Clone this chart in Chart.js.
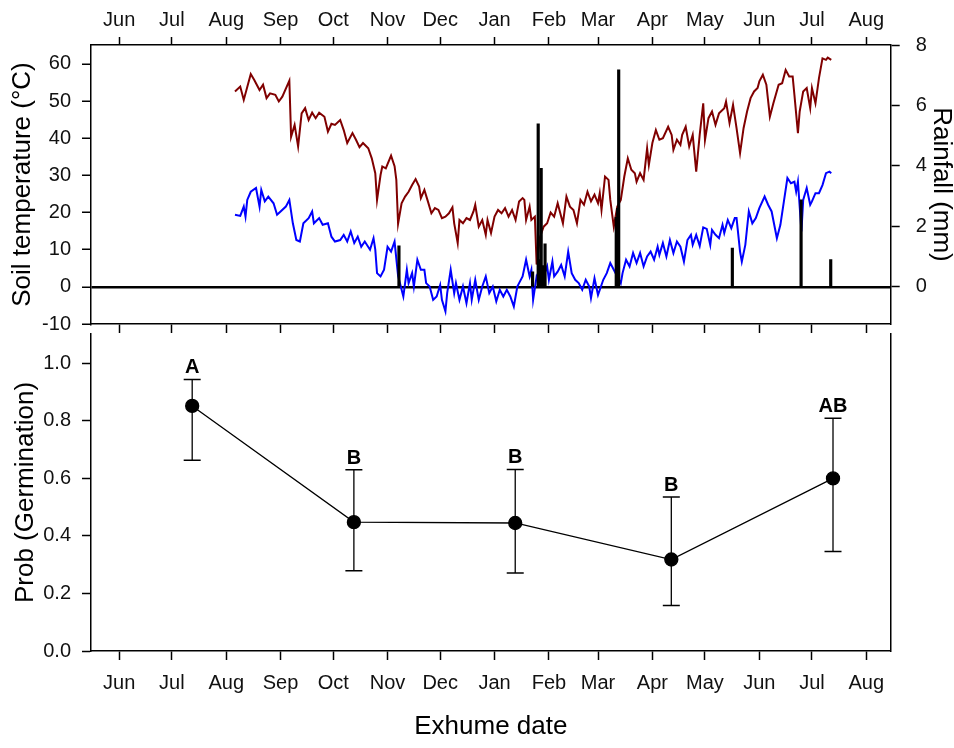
<!DOCTYPE html>
<html>
<head>
<meta charset="utf-8">
<script src="https://cdn.jsdelivr.net/npm/chart.js@4.4.1/dist/chart.umd.min.js"></script>
<style>
  html, body { margin: 0; padding: 0; background: #fff; }
  #wrap { position: relative; width: 954px; height: 748px; overflow: hidden; }
  #wrap canvas { position: absolute; left: 0; }
  #tempChart { top: 0; }
  #probChart { top: 324px; }
</style>
</head>
<body>
<div id="wrap">
  <canvas id="probChart" width="954" height="424"></canvas>
  <canvas id="tempChart" width="954" height="345"></canvas>
</div>
<script>
// =============================================================================
// DATA  (x values are days counted from 1 June of the first year)
// =============================================================================

const MONTH_DAYS = [0, 30, 61, 92, 122, 153, 183, 214, 245, 273, 304, 334, 365, 395, 426];
const MONTH_LABELS = ["Jun", "Jul", "Aug", "Sep", "Oct", "Nov", "Dec", "Jan", "Feb", "Mar", "Apr", "May", "Jun", "Jul", "Aug"];

const TEMP_TICKS = [-10, 0, 10, 20, 30, 40, 50, 60];
const RAIN_TICKS = [0, 2, 4, 6, 8];
const PROB_TICKS = [0, 0.2, 0.4, 0.6, 0.8, 1.0];
const PROB_LABELS = ["0.0", "0.2", "0.4", "0.6", "0.8", "1.0"];

// Soil temperature, upper (dark red) trace
const MAX_DAYS = [66, 69, 71, 75, 77, 80, 82, 84, 86, 89, 91, 93, 97, 98, 100, 102, 104, 106, 108, 110,
  112, 114, 117, 119, 121, 123, 126, 128, 130, 133, 135, 137, 139, 142, 144, 146, 147, 149, 150, 152,
  155, 157, 158, 159, 161, 163, 165, 167, 169, 171, 172, 174, 176, 178, 180, 182, 184, 186, 188, 190,
  191, 193, 194, 196, 198, 200, 202, 203, 205, 207, 209, 210, 212, 214, 216, 218, 220, 222, 224, 226,
  228, 230, 231, 232, 234, 235, 237, 238, 240, 242, 244, 246, 248, 250, 253, 255, 257, 259, 261, 263,
  265, 267, 269, 271, 273, 274, 275, 277, 279, 280, 282, 284, 286, 288, 290, 292, 294, 295, 297, 299,
  301, 302, 304, 306, 308, 310, 313, 315, 316, 318, 320, 321, 323, 325, 327, 329, 331, 333, 334, 336,
  338, 340, 342, 345, 346, 348, 350, 352, 354, 356, 358, 360, 362, 364, 365, 367, 369, 371, 373, 376,
  378, 380, 382, 384, 385, 387, 388, 390, 392, 394, 395, 397, 399, 401, 403, 404, 406];
const MAX_TEMP = [52.6, 53.9, 50.3, 57.3, 55.7, 53.0, 54.4, 50.8, 52.1, 51.7, 49.9, 51.2, 55.5, 40.4, 43.6, 37.8, 46.7, 48.1, 44.9, 46.9,
  45.4, 46.9, 45.8, 41.8, 43.9, 43.6, 44.9, 42.2, 38.7, 41.4, 39.6, 37.6, 38.7, 37.3, 34.6, 30.6, 23.4, 30.1, 32.4, 31.9,
  35.3, 32.5, 28.8, 17.0, 22.5, 24.3, 25.6, 27.4, 29.0, 27.0, 23.9, 26.1, 23.0, 19.8, 21.2, 20.7, 18.5, 18.9, 19.8, 21.4,
  17.1, 11.8, 18.0, 17.1, 18.5, 18.0, 20.3, 22.1, 16.2, 18.0, 14.0, 18.0, 14.5, 18.9, 20.7, 19.8, 21.2, 18.9, 20.7, 18.0,
  23.0, 23.9, 23.4, 18.0, 21.6, 18.0, 18.9, 6.0, 13.5, 16.2, 17.1, 20.0, 18.9, 22.5, 17.1, 24.3, 21.6, 20.7, 17.1, 23.4,
  22.1, 25.6, 23.0, 24.8, 22.5, 25.2, 20.7, 29.7, 28.8, 23.4, 16.2, 21.6, 23.4, 29.7, 34.6, 31.5, 30.6, 28.3, 30.6, 28.8,
  37.3, 32.8, 38.7, 42.2, 39.6, 40.0, 43.1, 40.9, 36.9, 39.6, 38.2, 40.9, 43.1, 37.8, 40.9, 31.0, 41.0, 49.4, 39.5, 45.4,
  47.2, 43.6, 46.7, 48.1, 49.9, 44.1, 49.0, 42.7, 36.0, 42.7, 47.2, 50.8, 52.6, 53.5, 55.3, 57.1, 54.4, 45.8, 49.4, 54.4,
  54.8, 58.4, 56.6, 56.6, 51.7, 41.4, 47.2, 52.6, 53.5, 48.1, 53.5, 49.4, 56.2, 61.5, 61.1, 61.7, 61.1];

// Soil temperature, lower (blue) trace
const MIN_DAYS = [66, 69, 71, 72, 73, 75, 78, 80, 81, 83, 85, 88, 90, 92, 95, 97, 99, 101, 103, 105,
  108, 110, 111, 114, 116, 119, 121, 123, 126, 128, 130, 132, 134, 136, 138, 140, 143, 145, 146, 147,
  149, 151, 153, 155, 157, 159, 162, 164, 165, 167, 168, 170, 172, 174, 175, 177, 179, 181, 183, 184,
  186, 187, 189, 191, 192, 194, 196, 198, 200, 201, 203, 205, 207, 209, 211, 213, 215, 217, 219, 221,
  223, 225, 227, 228, 230, 232, 234, 235, 236, 238, 240, 242, 244, 245, 247, 248, 250, 252, 254, 256,
  258, 260, 262, 264, 266, 268, 269, 271, 273, 276, 278, 280, 282, 284, 286, 287, 289, 291, 293, 295,
  297, 299, 301, 303, 305, 307, 308, 310, 312, 314, 316, 318, 320, 322, 324, 326, 327, 329, 331, 333,
  335, 337, 338, 340, 342, 344, 345, 347, 349, 351, 352, 354, 355, 357, 359, 361, 363, 365, 368, 370,
  372, 375, 377, 379, 381, 383, 385, 386, 387, 389, 390, 392, 394, 395, 397, 399, 401, 403, 405, 406];
const MIN_TEMP = [19.4, 19.1, 21.6, 18.9, 23.4, 25.6, 26.6, 21.6, 26.1, 23.0, 24.3, 22.5, 19.4, 20.3, 21.6, 23.4, 17.1, 12.6, 12.2, 17.1,
  18.5, 20.3, 17.1, 18.5, 16.7, 17.1, 13.5, 12.2, 12.6, 14.0, 12.2, 14.9, 11.8, 13.5, 10.8, 12.2, 10.0, 13.1, 10.0, 3.7,
  2.8, 4.6, 10.8, 9.5, 12.2, 3.0, -2.6, 4.6, 1.0, 3.7, 0.1, 7.3, 4.6, 4.6, 1.0, 0.1, -3.5, -2.6, 0.5, -3.5,
  -6.6, -1.7, 4.6, -1.7, 1.0, -3.5, 0.1, -4.4, 1.0, -3.5, 1.9, -3.5, 0.1, 2.8, -1.7, 0.1, -3.9, -0.8, -2.6, -0.8,
  -2.6, -5.3, 0.1, 1.0, 2.8, 7.3, 2.8, 4.6, -3.5, 2.8, 1.0, 2.8, 5.5, 1.9, 6.8, 2.8, 4.1, 5.9, 2.8, 9.5,
  3.7, 1.9, 1.0, -0.8, 1.9, 0.1, -3.0, 2.3, -2.2, 1.9, 3.7, 6.4, 4.6, 2.8, 1.0, 3.7, 7.3, 5.5, 9.1, 6.4,
  9.1, 5.5, 8.2, 9.5, 7.3, 10.8, 8.6, 11.8, 8.2, 12.6, 9.1, 12.2, 10.8, 6.8, 12.6, 14.0, 11.3, 14.0, 11.0, 16.0,
  15.6, 11.3, 15.3, 14.0, 13.1, 16.7, 14.5, 18.0, 15.8, 18.5, 18.5, 9.5, 6.8, 11.3, 20.3, 17.1, 18.5, 21.2, 24.3, 22.1,
  20.3, 13.1, 16.7, 23.0, 29.3, 27.9, 28.3, 25.6, 28.3, 14.9, 23.4, 26.6, 22.1, 23.0, 25.2, 25.2, 27.4, 30.6, 31.0, 30.6];

// Rainfall events (mm)
const RAIN_DAYS = [159.5, 235.7, 238.9, 239.6, 240.6, 241.4, 242.8, 283.4, 284.2, 284.8, 349.6, 388.8, 405.7];
const RAIN_MM = [1.36, 0.5, 5.39, 0.9, 3.92, 0.7, 1.42, 2.3, 2.6, 7.18, 1.28, 2.88, 0.9];

// Germination probability at each exhume date
const GERM_DAYS = [41.6, 133.8, 225.8, 314.8, 407];
const GERM_PROB = [0.852, 0.448, 0.445, 0.318, 0.600];
const GERM_LO = [0.663, 0.279, 0.271, 0.158, 0.346];
const GERM_HI = [0.944, 0.630, 0.631, 0.535, 0.809];
const GERM_LETTERS = ["A", "B", "B", "B", "AB"];

// =============================================================================
// HELPERS
// =============================================================================

const X_MIN = -16.1;
const X_MAX = 439.9;
const FONT = '"Liberation Sans", Arial, sans-serif';
const FRAME = { display: true, color: "#000", width: 1.5 };

Chart.defaults.font.family = FONT;
Chart.defaults.color = "#111";

const toPoints = (xs, ys) => xs.map((x, i) => ({ x, y: ys[i] }));
const setTicks = (values) => (scale) => { scale.ticks = values.map((v) => ({ value: v })); };
const fixWidth = (w) => (scale) => { scale.width = w; scale.paddingTop = 0; scale.paddingBottom = 0; };
const fixHeight = (h) => (scale) => { scale.height = h; scale.paddingLeft = 0; scale.paddingRight = 0; };
const monthLabel = (v, i) => MONTH_LABELS[i];

// the bar dataset would otherwise switch the x scales to "offset" mode
const monthAxis = (position, height, showLabels, tickLength) => ({
  type: "linear",
  position,
  min: X_MIN,
  max: X_MAX,
  offset: false,
  afterBuildTicks: setTicks(MONTH_DAYS),
  afterFit: fixHeight(height),
  ticks: { display: showLabels, callback: monthLabel, font: { size: 20 }, padding: position === "top" ? 5 : 11, maxRotation: 0, autoSkip: false, color: "#111" },
  grid: { offset: false, drawOnChartArea: false, tickLength, tickColor: "#000", tickWidth: 1.5 },
  border: FRAME,
});

const noChrome = { legend: { display: false }, tooltip: { enabled: false } };

// =============================================================================
// TOP PANEL: soil temperature + rainfall
// =============================================================================

new Chart(document.getElementById("tempChart"), {
  type: "line",
  data: {
    datasets: [
      {
        type: "bar",
        label: "Rainfall",
        data: toPoints(RAIN_DAYS, RAIN_MM),
        xAxisID: "x",
        yAxisID: "y2",
        backgroundColor: "#000",
        barThickness: 2.5,
        order: 0,
      },
      {
        label: "Upper soil temperature",
        data: toPoints(MAX_DAYS, MAX_TEMP),
        xAxisID: "x",
        yAxisID: "y",
        borderColor: "#800000",
        borderWidth: 2,
        pointRadius: 0,
        order: 1,
      },
      {
        label: "Lower soil temperature",
        data: toPoints(MIN_DAYS, MIN_TEMP),
        xAxisID: "x",
        yAxisID: "y",
        borderColor: "#0000ff",
        borderWidth: 2,
        pointRadius: 0,
        order: 2,
      },
    ],
  },
  options: {
    responsive: false,
    animation: false,
    layout: { padding: 0 },
    plugins: noChrome,
    scales: {
      x: monthAxis("top", 45, true, 8),
      x2: monthAxis("bottom", 21, false, 9),
      y: {
        position: "left",
        min: -10,
        max: 65.1,
        afterBuildTicks: setTicks(TEMP_TICKS),
        afterFit: fixWidth(91),
        ticks: { font: { size: 20 }, padding: 11, color: "#111", callback: (v) => String(v) },
        grid: {
          color: (c) => (c.tick && c.tick.value === 0 ? "#000" : "rgba(0,0,0,0)"),
          lineWidth: 2.5,
          tickColor: "#000",
          tickWidth: 1.5,
          tickLength: 9,
        },
        border: FRAME,
        title: { display: true, text: "Soil temperature (°C)", font: { size: 26 }, color: "#000", padding: { top: 7 } },
      },
      y2: {
        position: "right",
        min: -1.23,
        max: 8,
        afterBuildTicks: setTicks(RAIN_TICKS),
        afterFit: fixWidth(63.3),
        ticks: { font: { size: 20 }, padding: 16, color: "#111", callback: (v) => String(v) },
        grid: { drawOnChartArea: false, tickColor: "#000", tickWidth: 1.5, tickLength: 9 },
        border: FRAME,
        title: { display: true, text: "Rainfall (mm)", font: { size: 26, lineHeight: 1 }, color: "#000", padding: { top: 0 } },
      },
    },
  },
});

// =============================================================================
// BOTTOM PANEL: germination probability
// =============================================================================

const letterPlugin = {
  id: "groupLetters",
  afterDatasetsDraw(chart) {
    const { ctx } = chart;
    const { x, y } = chart.scales;
    ctx.save();
    ctx.font = `bold 20px ${FONT}`;
    ctx.fillStyle = "#000";
    ctx.textAlign = "center";
    ctx.textBaseline = "alphabetic";
    GERM_LETTERS.forEach((text, i) => {
      ctx.fillText(text, x.getPixelForValue(GERM_DAYS[i]), y.getPixelForValue(GERM_HI[i]) - 6);
    });
    ctx.restore();
  },
};

const whiskers = [];
const caps = [];
GERM_DAYS.forEach((d, i) => {
  whiskers.push({ x: d, y: GERM_LO[i] }, { x: d, y: GERM_HI[i] }, { x: d, y: null });
  caps.push({ x: d, y: GERM_LO[i] }, { x: d, y: GERM_HI[i] });
});

new Chart(document.getElementById("probChart"), {
  type: "line",
  data: {
    datasets: [
      {
        label: "Prob (Germination)",
        data: toPoints(GERM_DAYS, GERM_PROB),
        xAxisID: "x",
        yAxisID: "y",
        borderColor: "#000",
        borderWidth: 1.3,
        pointRadius: 6.5,
        pointBackgroundColor: "#000",
        pointBorderColor: "#000",
        order: 0,
      },
      {
        label: "CI",
        data: whiskers,
        xAxisID: "x",
        yAxisID: "y",
        borderColor: "#000",
        borderWidth: 1.3,
        pointRadius: 0,
        spanGaps: false,
        order: 1,
      },
      {
        label: "CI caps",
        data: caps,
        xAxisID: "x",
        yAxisID: "y",
        showLine: false,
        pointStyle: "line",
        pointRadius: 8.5,
        pointBorderWidth: 1.5,
        pointBorderColor: "#000",
        order: 2,
      },
    ],
  },
  options: {
    responsive: false,
    animation: false,
    layout: { padding: 0 },
    plugins: noChrome,
    scales: {
      x: Object.assign(monthAxis("bottom", 97, true, 9), {
        title: { display: true, text: "Exhume date", font: { size: 26 }, color: "#000", padding: { bottom: 5.4 } },
      }),
      y: {
        position: "left",
        min: 0,
        max: 1.102,
        afterBuildTicks: setTicks(PROB_TICKS),
        afterFit: fixWidth(91),
        ticks: { font: { size: 20 }, padding: 11, color: "#111", callback: (v, i) => PROB_LABELS[i] },
        grid: { drawOnChartArea: false, tickColor: "#000", tickWidth: 1.5, tickLength: 9 },
        border: FRAME,
        title: { display: true, text: "Prob (Germination)", font: { size: 26 }, color: "#000", padding: { top: 10.4 } },
      },
      y2: {
        position: "right",
        min: 0,
        max: 1,
        afterFit: fixWidth(63.3),
        ticks: { display: false },
        grid: { display: false },
        border: FRAME,
      },
    },
  },
  plugins: [letterPlugin],
});
</script>
</body>
</html>
